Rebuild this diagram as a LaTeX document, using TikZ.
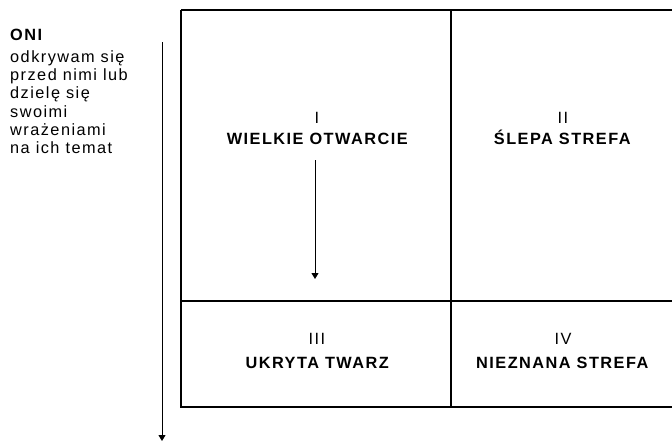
\documentclass[tikz,border=0pt]{standalone}
\usepackage{fontspec}
\setmainfont{Liberation Sans}[LetterSpace=9]
\usetikzlibrary{arrows.meta}
\begin{document}
\begin{tikzpicture}[x=1pt,y=-1pt,
  grid/.style={line width=2pt},
  arr/.style={line width=0.9pt,-{Triangle[width=7pt,length=6pt]}},
  txt/.style={font=\fontsize{16.3}{18}\selectfont, inner sep=0pt},
  side/.style={txt, anchor=base west},
  lbl/.style={txt, anchor=base}]
\useasboundingbox (0,0) rectangle (672,442);
\draw[grid] (181,10) -- (673,10);
\draw[grid] (181,10) -- (181,407) -- (673,407);
\draw[grid] (451,10) -- (451,407);
\draw[grid] (181,301) -- (673,301);
\node[side] (oni) at (10,40.5) {\textbf{ONI}};
\node[side] (l1) at (10,62.3) {odkrywam się};
\node[side] (l2) at (10,80.6) {przed nimi lub};
\node[side] (l3) at (10,98.9) {dzielę się};
\node[side] (l4) at (10,117.2) {swoimi};
\node[side] (l5) at (10,135.5) {wrażeniami};
\node[side] (l6) at (10,153.8) {na ich temat};
\coordinate (a1) at (162,42);
\coordinate (a2) at (162,441);
\draw[arr] (a1) -- (a2);
\node[lbl] (n1) at (317,123.5) {I};
\node[lbl] (t1) at (318,144.5) {\textbf{WIELKIE OTWARCIE}};
\node[lbl] (n2) at (563,123.5) {II};
\node[lbl] (t2) at (563,144.5) {\textbf{ŚLEPA STREFA}};
\node[lbl] (n3) at (317,344.5) {III};
\node[lbl] (t3) at (318,368.5) {\textbf{UKRYTA TWARZ}};
\node[lbl] (n4) at (563,344.5) {IV};
\node[lbl] (t4) at (563,368.5) {\textbf{NIEZNANA STREFA}};
\coordinate (b1) at (315,160);
\coordinate (b2) at (315,279);
\draw[arr] (b1) -- (b2);
\end{tikzpicture}
\end{document}
